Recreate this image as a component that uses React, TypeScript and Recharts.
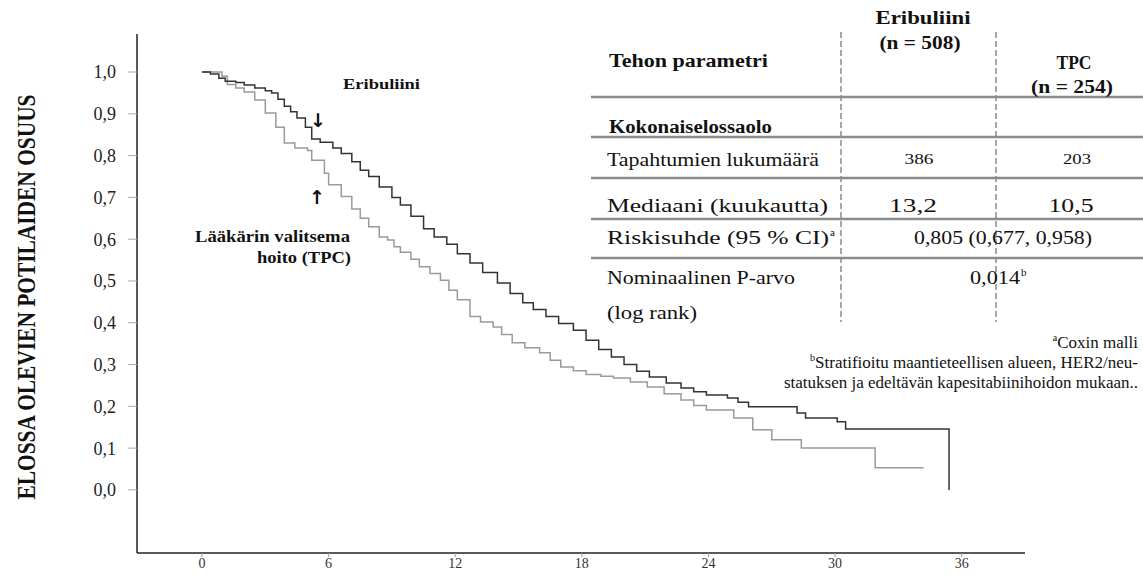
import { LineChart, Line, XAxis, YAxis } from "recharts";

// Kaplan-Meier estimates (months, survival proportion)
const eribMonths = [0, 0.4, 0.8, 1.1, 1.6, 2.0, 2.5, 3.0, 3.3, 3.6, 3.9, 4.2, 4.5, 4.9, 5.2, 5.6, 6.2, 6.6, 7.1, 7.5, 7.9, 8.4, 9.0, 9.4, 9.9, 10.5, 11.0, 11.6, 12.1, 12.7, 13.3, 14.0, 14.6, 15.2, 15.7, 16.3, 16.9, 17.6, 18.2, 18.8, 19.4, 20.0, 20.6, 21.2, 22.0, 22.7, 23.3, 23.9, 24.9, 25.4, 25.9, 28.2, 28.6, 30.1, 30.5, 35.4];
const eribSurvival = [1.0, 0.995, 0.985, 0.978, 0.975, 0.969, 0.962, 0.955, 0.95, 0.935, 0.918, 0.905, 0.89, 0.868, 0.84, 0.832, 0.818, 0.805, 0.785, 0.765, 0.75, 0.725, 0.7, 0.682, 0.655, 0.625, 0.605, 0.588, 0.565, 0.543, 0.52, 0.495, 0.47, 0.448, 0.432, 0.415, 0.398, 0.382, 0.358, 0.336, 0.318, 0.3, 0.284, 0.27, 0.256, 0.244, 0.235, 0.227, 0.22, 0.21, 0.199, 0.184, 0.172, 0.163, 0.146, 0.0];

const tpcMonths = [0, 0.95, 1.2, 1.6, 2.0, 2.5, 3.0, 3.5, 3.9, 4.4, 5.0, 5.2, 5.8, 6.0, 6.6, 7.1, 7.5, 7.9, 8.4, 8.8, 9.1, 9.4, 9.9, 10.3, 10.8, 11.3, 11.7, 12.1, 12.7, 13.2, 13.8, 14.2, 14.7, 15.3, 16.0, 16.5, 17.0, 17.6, 18.2, 18.9, 19.5, 20.3, 21.1, 21.9, 22.7, 23.3, 23.9, 25.2, 26.1, 27.0, 28.4, 31.9, 34.2];
const tpcSurvival = [1.0, 0.99, 0.97, 0.962, 0.952, 0.933, 0.902, 0.868, 0.83, 0.818, 0.812, 0.789, 0.758, 0.73, 0.702, 0.672, 0.65, 0.63, 0.605, 0.598, 0.582, 0.569, 0.552, 0.534, 0.518, 0.502, 0.478, 0.455, 0.415, 0.402, 0.39, 0.372, 0.352, 0.34, 0.328, 0.31, 0.294, 0.285, 0.276, 0.272, 0.268, 0.258, 0.246, 0.23, 0.215, 0.202, 0.191, 0.172, 0.144, 0.12, 0.1, 0.053, 0.053];

const xTicks = [0, 6, 12, 18, 24, 30, 36];
const yTicks = [0, 0.1, 0.2, 0.3, 0.4, 0.5, 0.6, 0.7, 0.8, 0.9, 1.0];

const rowLabels = ["Tapahtumien lukumäärä", "Mediaani (kuukautta)", "Riskisuhde (95 % CI)", "Nominaalinen P-arvo", "(log rank)"];
const eribValues = ["386", "13,2"];
const tpcValues = ["203", "10,5"];
const hazardRatio = "0,805 (0,677, 0,958)";
const pValue = "0,014";

const eribData = eribMonths.map((t, i) => ({ t, s: eribSurvival[i] }));
const tpcData = tpcMonths.map((t, i) => ({ t, s: tpcSurvival[i] }));

const serif = '"Liberation Serif", "Times New Roman", serif';
const fmt = (v: number) => v.toFixed(1).replace(".", ",");

// svg text stretched to the width measured in the reference
function T({ x, y, w, size = 19, bold = false, anchor = "start", children }: any) {
  return (
    <text
      x={x}
      y={y}
      fontSize={size}
      fontWeight={bold ? "bold" : "normal"}
      textAnchor={anchor}
      textLength={w}
      lengthAdjust="spacingAndGlyphs"
      fill="#111"
    >
      {children}
    </text>
  );
}

export default function App() {
  return (
    <div style={{ position: "absolute", left: 0, top: 0, width: 1143, height: 575, background: "#fff", fontFamily: serif }}>
      <LineChart width={1143} height={575} margin={{ top: 34, right: 118, bottom: 0, left: 57 }}>
        <XAxis
          type="number"
          dataKey="t"
          domain={[-3.08, 39]}
          ticks={xTicks}
          allowDataOverflow
          height={22}
          axisLine={{ stroke: "#222", strokeWidth: 1.5 }}
          tickLine={{ stroke: "#999" }}
          tickSize={4}
          tickMargin={1}
          tick={{ fontSize: 14, fill: "#333", fontFamily: serif }}
        />
        <YAxis
          type="number"
          dataKey="s"
          domain={[-0.151, 1.091]}
          ticks={yTicks}
          allowDataOverflow
          width={80}
          axisLine={{ stroke: "#222", strokeWidth: 1.5 }}
          tickLine={{ stroke: "#aaa" }}
          tickSize={9}
          tickMargin={12}
          tickFormatter={fmt}
          tick={{ fontSize: 18, fill: "#222", fontFamily: serif }}
        />
        <Line data={tpcData} dataKey="s" type="stepAfter" stroke="#9a9a9a" strokeWidth={1.5} dot={false} isAnimationActive={false} />
        <Line data={eribData} dataKey="s" type="stepAfter" stroke="#333" strokeWidth={1.5} dot={false} isAnimationActive={false} />
      </LineChart>

      <svg width={1143} height={575} style={{ position: "absolute", left: 0, top: 0, pointerEvents: "none" }} fontFamily={serif}>
        {/* y-axis title */}
        <text x={35} y={297} transform="rotate(-90 35 297)" textAnchor="middle" fontSize={25} fontWeight="bold" fill="#111" textLength={405} lengthAdjust="spacingAndGlyphs">
          ELOSSA OLEVIEN POTILAIDEN OSUUS
        </text>

        {/* curve annotations */}
        <T x={343} y={89} w={77} size={15} bold>Eribuliini</T>
        <text x={318} y={127} fontSize={19} fontWeight="bold" textAnchor="middle" fill="#111" fontFamily='"DejaVu Sans", sans-serif'>↓</text>
        <text x={317} y={204} fontSize={19} fontWeight="bold" textAnchor="middle" fill="#111" fontFamily='"DejaVu Sans", sans-serif'>↑</text>
        <T x={350} y={242} w={155} size={16} bold anchor="end">Lääkärin valitsema</T>
        <T x={351} y={263} w={94} size={16} bold anchor="end">hoito (TPC)</T>

        {/* table grid */}
        {[97, 137, 178, 219, 258].map((y) => (
          <line key={y} x1={591} x2={1143} y1={y} y2={y} stroke="#8a8a8a" strokeWidth={2.5} />
        ))}
        {[841, 996].map((x) => (
          <line key={x} x1={x} x2={x} y1={32} y2={322} stroke="#8a8a8a" strokeWidth={1.5} strokeDasharray="6 3" />
        ))}

        {/* table header */}
        <T x={609} y={67} w={159} size={18} bold>Tehon parametri</T>
        <T x={923} y={24} w={95} size={18} bold anchor="middle">Eribuliini</T>
        <T x={920} y={49} w={81} size={18} bold anchor="middle">(n = 508)</T>
        <T x={1074} y={69} w={35} size={18} bold anchor="middle">TPC</T>
        <T x={1072} y={93} w={82} size={18} bold anchor="middle">(n = 254)</T>
        <T x={609} y={133} w={163} size={18} bold>Kokonaiselossaolo</T>

        {/* table body */}
        <T x={607} y={166} w={212}>{rowLabels[0]}</T>
        <T x={919} y={164} w={29} size={15} anchor="middle">{eribValues[0]}</T>
        <T x={1077} y={164} w={28} size={15} anchor="middle">{tpcValues[0]}</T>
        <T x={607} y={212} w={221}>{rowLabels[1]}</T>
        <T x={913} y={212} w={48} anchor="middle">{eribValues[1]}</T>
        <T x={1071} y={212} w={45} anchor="middle">{tpcValues[1]}</T>
        <T x={607} y={244} w={222}>{rowLabels[2]}</T>
        <text x={830} y={236} fontSize={11} fill="#111">a</text>
        <T x={1003} y={244} w={178} anchor="middle">{hazardRatio}</T>
        <T x={607} y={284} w={188}>{rowLabels[3]}</T>
        <T x={607} y={319} w={90}>{rowLabels[4]}</T>
        <T x={995} y={284} w={50} anchor="middle">{pValue}</T>
        <text x={1021} y={276} fontSize={11} fill="#111">b</text>

        {/* footnotes */}
        <g fontSize={17} fill="#111" textAnchor="end">
          <text x={1138} y={348}><tspan fontSize={10} dy={-7}>a</tspan><tspan dy={7}>Coxin malli</tspan></text>
          <text x={1138} y={368}><tspan fontSize={10} dy={-7}>b</tspan><tspan dy={7}>Stratifioitu maantieteellisen alueen, HER2/neu-</tspan></text>
          <text x={1138} y={388}>statuksen ja edeltävän kapesitabiinihoidon mukaan..</text>
        </g>
      </svg>
    </div>
  );
}
